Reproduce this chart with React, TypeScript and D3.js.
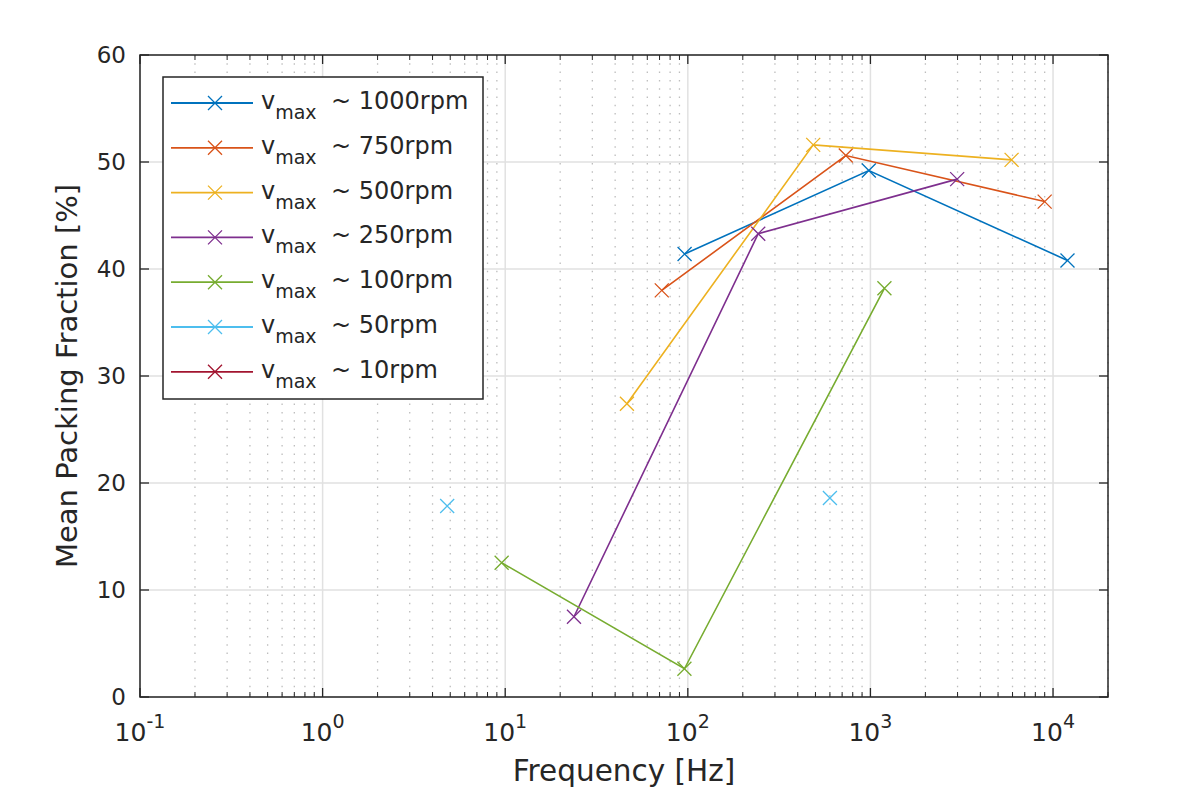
import React from "react";
import * as d3 from "d3";

const seriesNames = ["1000rpm", "750rpm", "500rpm", "250rpm", "100rpm", "50rpm", "10rpm"];
const seriesColors = ["#0072BD", "#D95319", "#EDB120", "#7E2F8E", "#77AC30", "#4DBEEE", "#A2142F"];
const seriesLines = [true, true, true, true, true, false, true];

const freq1000 = [96, 980, 12000];
const pack1000 = [41.4, 49.2, 40.8];
const freq750 = [72, 733, 9000];
const pack750 = [38.0, 50.6, 46.3];
const freq500 = [46.4, 486, 5930];
const pack500 = [27.4, 51.6, 50.2];
const freq250 = [23.8, 243, 2985];
const pack250 = [7.5, 43.3, 48.4];
const freq100 = [9.56, 95.8, 1193];
const pack100 = [12.55, 2.64, 38.2];
const freq50 = [4.81, 600];
const pack50 = [17.85, 18.6];
const freq10: number[] = [];
const pack10: number[] = [];

const allFreq = [freq1000, freq750, freq500, freq250, freq100, freq50, freq10];
const allPack = [pack1000, pack750, pack500, pack250, pack100, pack50, pack10];

const xDecades = [-1, 0, 1, 2, 3, 4];
const yTicks = [0, 10, 20, 30, 40, 50, 60];

const W = 1196, H = 788;
const L = 140, R = 1108, T = 55, B = 697;

export default function App() {
  const x = d3.scaleLog().domain([0.1, 20000]).range([L, R]);
  const y = d3.scaleLinear().domain([0, 60]).range([B, T]);
  const minor: number[] = [];
  for (let d = -1; d <= 4; d++) {
    for (let k = 2; k <= 9; k++) {
      const v = k * Math.pow(10, d);
      if (v <= 20000) minor.push(v);
    }
  }
  const line = d3.line<[number, number]>().x(d => x(d[0])).y(d => y(d[1]));
  const ms = 7;
  const cross = (cx: number, cy: number, c: string, key: string) => (
    <path key={key} d={`M${cx - ms},${cy - ms}L${cx + ms},${cy + ms}M${cx - ms},${cy + ms}L${cx + ms},${cy - ms}`} stroke={c} strokeWidth={1.3} fill="none" />
  );
  const axisCol = "#262626";
  const font = "'DejaVu Sans', sans-serif";
  const legX = 163, legY = 77, legW = 320, legH = 322;
  const rowY0 = 103, rowDy = 44.8;
  return (
    <div style={{ position: "fixed", left: 0, top: 0, width: W, height: H, background: "#fff" }}>
      <svg width={W} height={H} style={{ display: "block" }} fontFamily={font}>
        <rect x={0} y={0} width={W} height={H} fill="#fff" />
        {/* minor grid */}
        {minor.map((v, i) => (
          <line key={"mg" + i} x1={x(v)} x2={x(v)} y1={T} y2={B} stroke="#bdbdbd" strokeWidth={1.3} strokeDasharray="1.5,6.8" />
        ))}
        {/* major grid */}
        {xDecades.map(d => (
          <line key={"xg" + d} x1={x(Math.pow(10, d))} x2={x(Math.pow(10, d))} y1={T} y2={B} stroke="#e1e1e1" strokeWidth={1.5} />
        ))}
        {yTicks.map(t => (
          <line key={"yg" + t} x1={L} x2={R} y1={y(t)} y2={y(t)} stroke="#e1e1e1" strokeWidth={1.5} />
        ))}
        {/* data */}
        {allFreq.map((fs, si) => {
          const pts: [number, number][] = fs.map((f, j) => [f, allPack[si][j]]);
          return (
            <g key={"s" + si}>
              {seriesLines[si] && pts.length > 1 && (
                <path d={line(pts) || ""} stroke={seriesColors[si]} strokeWidth={1.6} fill="none" />
              )}
              {pts.map((p, j) => cross(x(p[0]), y(p[1]), seriesColors[si], "m" + si + "-" + j))}
            </g>
          );
        })}
        {/* axes box */}
        <rect x={L} y={T} width={R - L} height={B - T} fill="none" stroke={axisCol} strokeWidth={1.5} />
        {/* x ticks */}
        {xDecades.map(d => (
          <g key={"xt" + d}>
            <line x1={x(Math.pow(10, d))} x2={x(Math.pow(10, d))} y1={B} y2={B - 9} stroke={axisCol} strokeWidth={1.3} />
            <line x1={x(Math.pow(10, d))} x2={x(Math.pow(10, d))} y1={T} y2={T + 9} stroke={axisCol} strokeWidth={1.3} />
          </g>
        ))}
        {minor.map((v, i) => (
          <g key={"mt" + i}>
            <line x1={x(v)} x2={x(v)} y1={B} y2={B - 5} stroke={axisCol} strokeWidth={1} />
            <line x1={x(v)} x2={x(v)} y1={T} y2={T + 5} stroke={axisCol} strokeWidth={1} />
          </g>
        ))}
        {yTicks.map(t => (
          <g key={"yt" + t}>
            <line x1={L} x2={L + 9} y1={y(t)} y2={y(t)} stroke={axisCol} strokeWidth={1.3} />
            <line x1={R} x2={R - 9} y1={y(t)} y2={y(t)} stroke={axisCol} strokeWidth={1.3} />
            <text x={L - 14} y={y(t)} dy="0.36em" textAnchor="end" fontSize={23} fill={axisCol}>{t}</text>
          </g>
        ))}
        {xDecades.map(d => (
          <text key={"xl" + d} x={x(Math.pow(10, d))} y={741} textAnchor="middle" fontSize={25} fill={axisCol}>
            10<tspan dy={-13} fontSize={19}>{d}</tspan>
          </text>
        ))}
        <text x={(L + R) / 2} y={781} textAnchor="middle" fontSize={29.5} fill={axisCol}>Frequency [Hz]</text>
        <text transform={`translate(${77},${(T + B) / 2}) rotate(-90)`} textAnchor="middle" fontSize={29} fill={axisCol}>Mean Packing Fraction [%]</text>
        {/* legend */}
        <rect x={legX} y={legY} width={legW} height={legH} fill="#fff" stroke={axisCol} strokeWidth={1.5} />
        {seriesNames.map((n, i) => {
          const ry = rowY0 + i * rowDy;
          return (
            <g key={"lg" + i}>
              <line x1={171} x2={253} y1={ry} y2={ry} stroke={seriesColors[i]} strokeWidth={1.8} />
              {cross(215, ry, seriesColors[i], "lm" + i)}
              <text x={261} y={ry + 6} fontSize={24} fill={axisCol}>
                v<tspan dy={10} fontSize={19}>max</tspan>
              </text>
              <text x={331} y={ry + 6} fontSize={24} fill={axisCol}>~ {n}</text>
            </g>
          );
        })}
      </svg>
    </div>
  );
}
